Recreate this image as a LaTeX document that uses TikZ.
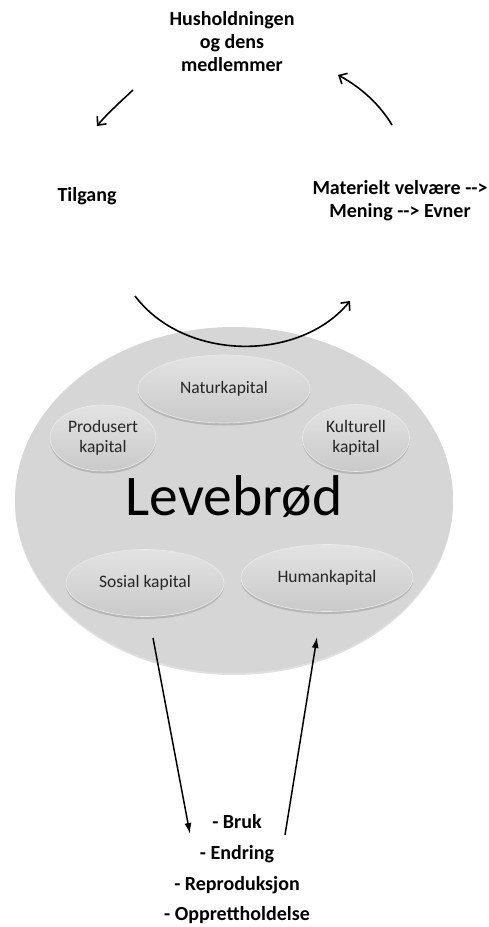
\documentclass[tikz,border=0pt]{standalone}
\usepackage{fontspec}
\setmainfont{Carlito}
\usetikzlibrary{arrows.meta,shapes.geometric,shadows}
\begin{document}
\begin{tikzpicture}[x=1pt,y=-1pt,
  lbl/.style={font=\bfseries\fontsize{20}{23}\selectfont,align=center,inner sep=0pt,text=black},
  bigell/.style={ellipse,fill=black!16,minimum width=438pt,minimum height=346pt,inner sep=0pt,
    drop shadow={shadow xshift=0pt,shadow yshift=-2pt,opacity=0.12,fill=black}},
  capell/.style={ellipse,inner sep=0pt,align=center,top color=black!11,bottom color=black!21,
    draw=black!8,line width=0.6pt,
    font=\fontsize{17.5}{20}\selectfont,text=black!85,
    drop shadow={shadow xshift=0pt,shadow yshift=-2.5pt,opacity=0.15,fill=black}},
  cyc/.style={line width=1.6pt,-{Straight Barb[length=6.5pt,width=12pt,line width=1.6pt]}},
  flow/.style={line width=1.5pt,-{Latex[length=11pt,width=7pt]}}
]
\useasboundingbox (0,0) rectangle (488,927);

% big ellipse
\node[bigell] (big) at (234,500) {};
\node[font=\fontsize{57.5}{60}\selectfont,anchor=base,inner sep=0pt] (leve) at (234,515) {Levebrød};

% capitals
\node[capell,minimum width=172pt,minimum height=68pt] (nat) at (224,389) {Naturkapital};
\node[capell,minimum width=106pt,minimum height=66pt] (pro) at (103,438) {Produsert\\kapital};
\node[capell,minimum width=107pt,minimum height=67pt] (kul) at (356,438) {Kulturell\\kapital};
\node[capell,minimum width=158pt,minimum height=67pt] (sos) at (145,583) {Sosial kapital};
\node[capell,minimum width=172pt,minimum height=67pt] (hum) at (327,578) {Humankapital};

% top texts
\node[lbl] (hus) at (232,42) {Husholdningen\\og dens\\medlemmer};
\node[lbl] (til) at (87,196) {Tilgang};
\node[lbl] (mat) at (400,201) {Materielt velvære {-}{-}>\\Mening {-}{-}> Evner};

% cycle arrows
\coordinate (a1s) at (133,90);
\coordinate (a1e) at (97,126);
\coordinate (a2s) at (392,125);
\coordinate (a2e) at (338,75);
\coordinate (a3s) at (135,296);
\coordinate (a3e) at (350,301);
\draw[cyc] (a1s) .. controls (118,104) and (106,115) .. (a1e);
\draw[cyc] (a2s) .. controls (380,105) and (362,88) .. (a2e);
\draw[cyc] (a3s) .. controls (185,362) and (300,362) .. (a3e);

% bottom
\node[lbl,anchor=base] (bruk) at (237,828) {- Bruk};
\node[lbl,anchor=base] (endr) at (237,859) {- Endring};
\node[lbl,anchor=base] (repr) at (237,890) {- Reproduksjon};
\node[lbl,anchor=base] (oppr) at (237,920) {- Opprettholdelse};

\coordinate (b1s) at (153,638);
\coordinate (b1e) at (190,834);
\coordinate (b2s) at (285,835);
\coordinate (b2e) at (317,637);
\draw[flow] (b1s) -- (b1e);
\draw[flow] (b2s) -- (b2e);
\end{tikzpicture}
\end{document}
